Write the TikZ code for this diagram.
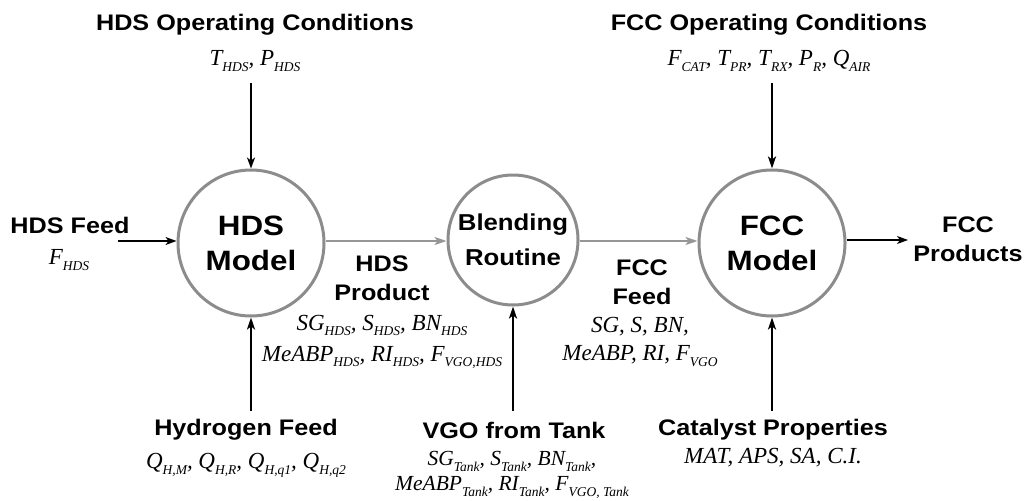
\documentclass[tikz,border=0pt]{standalone}
\usepackage{fontspec}
\setmainfont{Liberation Serif}
\setsansfont{Liberation Sans}[FakeStretch=1.12]
\usetikzlibrary{arrows.meta}
% italic variable with a small italic subscript
\newcommand{\vr}[2]{\textit{#1}\raisebox{-0.25em}{\fontsize{13.5}{13.5}\selectfont\textit{#2}}}
\definecolor{ringgray}{RGB}{140,140,140}
\definecolor{streamgray}{RGB}{150,150,150}
\begin{document}
\begin{tikzpicture}[x=1pt,y=-1pt,
  model/.style={circle,draw=ringgray,line width=3pt,inner sep=0pt,align=center,
    font=\sffamily\bfseries\fontsize{28}{35}\selectfont},
  head/.style={align=center,font=\sffamily\bfseries\fontsize{22.5}{29}\selectfont},
  vars/.style={align=center,inner sep=1pt,font=\fontsize{23}{31}\selectfont\itshape},
  flow/.style={-{Stealth[length=11pt,width=8pt,inset=3pt]},line width=1.2pt,black},
  feedflow/.style={-{Stealth[length=12pt,width=8pt,inset=3pt]},line width=2.2pt,black},
  stream/.style={-{Stealth[length=12pt,width=8pt,inset=3pt]},line width=2pt,streamgray}]
\useasboundingbox (0,0) rectangle (1024,500);

% process units
\node[model,minimum size=146pt] (hds) at (251,243) {HDS\\Model};
\node[model,minimum size=130pt,font=\sffamily\bfseries\fontsize{23}{35}\selectfont] (blend) at (513,240) {Blending\\Routine};
\node[model,minimum size=146pt] (fcc) at (772,243) {FCC\\Model};

% operating conditions
\node[head] (hdsop) at (255,25) {HDS Operating Conditions};
\node[vars] (hdsopv) at (255,61) {\vr{T}{HDS}, \vr{P}{HDS}};
\node[head] (fccop) at (769,25) {FCC Operating Conditions};
\node[vars] (fccopv) at (769,61) {\vr{F}{CAT}, \vr{T}{PR}, \vr{T}{RX}, \vr{P}{R}, \vr{Q}{AIR}};

% side labels
\node[head] (hdsfeed) at (70,225) {HDS Feed};
\node[vars] (hdsfeedv) at (69,260) {\vr{F}{HDS}};
\node[head] (fccprod) at (968,239) {FCC\\Products};

% stream labels
\node[head] (hdsprod) at (382,278) {HDS\\Product};
\node[vars] (hdsprodv) at (382,342) {\vr{SG}{HDS}, \vr{S}{HDS}, \vr{BN}{HDS}\\\vr{MeABP}{HDS}, \vr{RI}{HDS}, \vr{F}{VGO,HDS}};
\node[head] (fccfeed) at (642,282) {FCC\\Feed};
\node[vars,font=\fontsize{23}{28}\selectfont\itshape] (fccfeedv) at (640,342) {\textit{SG}, \textit{S}, \textit{BN},\\\textit{MeABP}, \textit{RI}, \vr{F}{VGO}};

% bottom inputs
\node[head] (h2) at (246,430) {Hydrogen Feed};
\node[vars] (h2v) at (246,465) {\vr{Q}{H,M}, \vr{Q}{H,R}, \vr{Q}{H,q1}, \vr{Q}{H,q2}};
\node[head] (vgo) at (514,430) {VGO from Tank};
\node[vars,font=\fontsize{21.5}{25}\selectfont\itshape] (vgov) at (512,475) {\vr{SG}{Tank}, \vr{S}{Tank}, \vr{BN}{Tank},\\\vr{MeABP}{Tank}, \vr{RI}{Tank}, \vr{F}{VGO, Tank}};
\node[head] (cat) at (773,430) {Catalyst Properties};
\node[vars] (catv) at (773,458) {MAT, APS, SA, C.I.};

% connector end points
\coordinate (hdsin) at (118,241);
\coordinate (fccout) at (908,240);
\coordinate (hdstop) at (251,83);
\coordinate (fcctop) at (772,83);
\coordinate (hdsbot) at (251,411);
\coordinate (blendbot) at (513,411);
\coordinate (fccbot) at (772,411);

% connectors
\draw[flow] (hdsin) -- (hdsin -| hds.west);
\draw[flow] (fcc.east |- fccout) -- (fccout);
\draw[stream] (hds.east |- 0,241) -- (blend.west |- 0,241);
\draw[stream] (blend.east |- 0,241) -- (fcc.west |- 0,241);
\draw[flow,line width=1.8pt] (hdstop) -- (hds.north);
\draw[feedflow,line width=2.6pt] (fcctop) -- (fcc.north);
\draw[feedflow] (hdsbot) -- (hds.south);
\draw[feedflow,line width=2.8pt] (blendbot) -- (blend.south);
\draw[feedflow] (fccbot) -- (fcc.south);
\end{tikzpicture}
\end{document}
